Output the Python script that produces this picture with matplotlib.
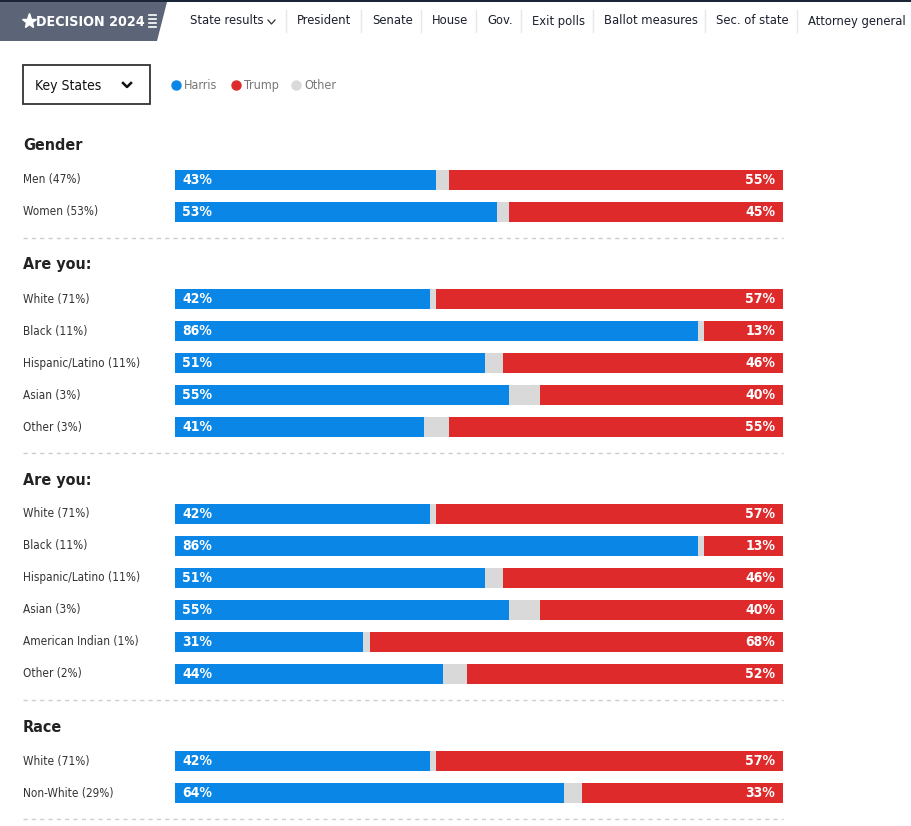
import matplotlib.pyplot as plt
from matplotlib.patches import Rectangle, Polygon

plt.rcParams['font.family'] = ['DejaVu Sans']
plt.rcParams['font.stretch'] = 'condensed'

# data
sections = ["Gender", "Are you:", "Are you:", "Race"]
row_labels = [
    ["Men (47%)", "Women (53%)"],
    ["White (71%)", "Black (11%)", "Hispanic/Latino (11%)", "Asian (3%)", "Other (3%)"],
    ["White (71%)", "Black (11%)", "Hispanic/Latino (11%)", "Asian (3%)",
     "American Indian (1%)", "Other (2%)"],
    ["White (71%)", "Non-White (29%)"],
]
harris = [[43, 53], [42, 86, 51, 55, 41], [42, 86, 51, 55, 31, 44], [42, 64]]
trump = [[55, 45], [57, 13, 46, 40, 55], [57, 13, 46, 40, 68, 52], [57, 33]]

nav_items = ["State results", "President", "Senate", "House", "Gov.", "Exit polls",
             "Ballot measures", "Sec. of state", "Attorney general"]
nav_x = [190, 297, 372, 432, 487, 532, 604, 716, 808]
legend_names = ["Harris", "Trump", "Other"]

BLUE = '#0a86e6'
RED = '#de2a2b'
GRAY = '#d9d9d9'

W, H = 911, 826
fig = plt.figure(figsize=(W / 100, H / 100), dpi=100)
bg = fig.add_axes([0, 0, 1, 1])
bg.set_xlim(0, W)
bg.set_ylim(H, 0)
bg.axis('off')

# header
bg.add_patch(Rectangle((0, 0), W, 2, color='#1b2538', lw=0))
bg.add_patch(Polygon([(0, 2), (167, 2), (157, 41), (0, 41)], closed=True,
                     color='#5b6577', lw=0))
bg.plot([29], [21], marker='*', color='white', markersize=11)
bg.text(36, 21.5, "DECISION 2024", color='white', fontsize=10.3, fontweight='bold',
        va='center', ha='left')
for i in range(4):
    bg.plot([149, 156], [15 + i * 4, 15 + i * 4], color='white', lw=1.2)

for i, (name, x) in enumerate(zip(nav_items, nav_x)):
    bg.text(x, 21, name, fontsize=9.3, color='#1b1f2e', va='center', ha='left')
    if i > 0:
        bg.plot([x - 11, x - 11], [10, 32], color='#e8e8e8', lw=1)
bg.plot([268, 271.5, 275], [20, 24, 20], color='#333333', lw=0.9)

# dropdown
bg.add_patch(Rectangle((23, 65), 127, 39, fill=False, edgecolor='#333333', lw=1.3))
bg.text(35, 86, "Key States", fontsize=10, color='#111111', va='center', ha='left')
bg.plot([123, 127, 131], [83, 87, 83], color='#111111', lw=1.8)

# legend
for i, (name, c) in enumerate(zip(legend_names, [BLUE, RED, GRAY])):
    bg.plot([176 + i * 60], [85], marker='o', color=c, markersize=6.5)
    bg.text(184 + i * 60, 85.5, name, fontsize=9, color='#777777', va='center', ha='left')

# bars
ax = fig.add_axes([175 / W, 0, 608 / W, 1])
ax.set_xlim(0, 100)
ax.set_ylim(H, 0)
ax.axis('off')

y = 146
for title, labels, hs, ts in zip(sections, row_labels, harris, trump):
    bg.text(23, y, title, fontsize=11.5, fontweight='bold', color='#222222',
            va='center', ha='left')
    ry = y + 34
    for lab, h, t in zip(labels, hs, ts):
        o = 100 - h - t
        ax.barh(ry, h, left=0, height=20, color=BLUE, lw=0)
        ax.barh(ry, o, left=h, height=20, color=GRAY, lw=0)
        ax.barh(ry, t, left=h + o, height=20, color=RED, lw=0)
        bg.text(23, ry, lab, fontsize=8.5, color='#333333', va='center', ha='left')
        ax.annotate(f"{h}%", xy=(0, ry), xytext=(7, 0), textcoords='offset pixels',
                    color='white', fontsize=10, fontweight='bold', va='center', ha='left')
        ax.annotate(f"{t}%", xy=(100, ry), xytext=(-8, 0), textcoords='offset pixels',
                    color='white', fontsize=10, fontweight='bold', va='center', ha='right')
        ry += 32
    line_y = ry - 32 + 26
    bg.plot([23, 783], [line_y, line_y], color='#cccccc', lw=1, linestyle=(0, (3, 3)))
    y = line_y + 27

fig.savefig('out.png', dpi=100)
